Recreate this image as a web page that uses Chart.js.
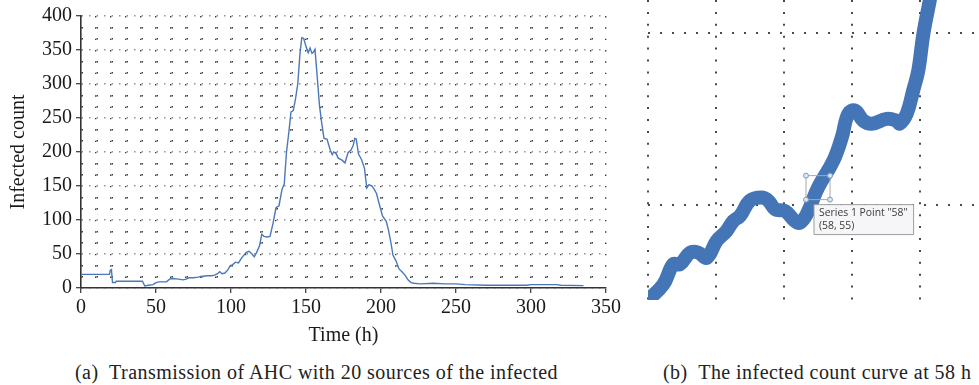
<!DOCTYPE html>
<html>
<head>
<meta charset="utf-8">
<script src="https://cdn.jsdelivr.net/npm/chart.js@4.4.1/dist/chart.umd.min.js"></script>
<style>
  body { margin: 0; background: #fff; width: 979px; height: 385px; position: relative; overflow: hidden; }
  #chart-a { position: absolute; left: 0; top: 0; }
  #chart-b { position: absolute; left: 630px; top: 0; }
  .cap { position: absolute; top: 360px; font-family: "Liberation Serif", serif; font-size: 20px; line-height: 24px; letter-spacing: 0.45px; color: #222; white-space: pre; }
</style>
</head>
<body>
<canvas id="chart-a" width="625" height="352"></canvas>
<canvas id="chart-b" width="349" height="300"></canvas>
<div class="cap" style="left:75px">(a)  Transmission of AHC with 20 sources of the infected</div>
<div class="cap" style="left:663px">(b)  The infected count curve at 58 h</div>
<script>
// (a) infected count over the whole run
const hours = [0, 19, 19.5, 20.3, 21, 23, 23.5, 41, 42.5, 45, 48, 50, 52, 57, 59, 61, 65, 68, 70, 72,
  75, 78, 80, 84, 87, 89, 91, 92.5, 94, 96, 98, 99.5, 101, 103, 105, 107, 110, 112, 114, 115.5,
  117, 119, 120.5, 122, 124, 126, 128, 130, 132, 134, 135.5, 137, 138.5, 140, 141.5, 143, 144.5, 146, 147.2, 148.5,
  150, 151.5, 152.7, 154, 155, 156, 157.5, 159, 160.5, 162, 164, 166, 167.5, 168.5, 170, 171.5, 174, 176, 178, 180,
  181.5, 182.5, 183.5, 185, 187, 189, 190.5, 192, 194, 195.5, 197, 199, 201, 203.5, 205, 206.5, 208, 210, 212, 214,
  216, 218, 220, 222, 226, 235, 242, 250, 256, 270, 297, 300, 317, 320, 335];
const infected = [20, 20, 26, 27, 8, 8, 10, 10, 3, 4, 5, 8, 9, 9, 13, 14, 13, 12, 13, 15,
  15, 16, 17, 18, 18, 19, 21, 24, 21, 22, 27, 33, 34, 38, 37, 44, 52, 54, 50, 46,
  52, 62, 79, 76, 75, 76, 95, 118, 121, 145, 153, 200, 228, 259, 261, 278, 300, 345, 368, 367,
  355, 346, 353, 345, 347, 351, 310, 268, 242, 220, 219, 204, 196, 200, 198, 191, 188, 184, 199, 203,
  210, 220, 219, 197, 189, 176, 147, 152, 150, 145, 139, 122, 106, 98, 85, 68, 48, 40, 28, 24,
  19, 12, 8, 7, 6, 7, 6, 6, 5, 4, 4, 5, 5, 4, 3.5];
const xTickLabels = [0, 50, 100, 150, 200, 250, 300, 350];
const yTickLabels = [0, 50, 100, 150, 200, 250, 300, 350, 400];

// (b) close-up of another run around 58 h
const zoomHours = [53.0, 53.45, 53.74, 53.94, 54.24, 54.48, 54.73, 55.02, 55.31, 55.51, 55.71, 56.0, 56.34, 56.54,
  56.74, 57.03, 57.32, 57.47, 57.67, 58, 58.45, 58.7, 58.89, 59.09, 59.33, 59.58, 60.02, 60.31, 60.41,
  60.61, 60.8, 60.95, 61.1, 61.29];
const zoomInfected = [22.3, 26.8, 32.7, 32.7, 36.1, 36.1, 34.6, 39.5, 42.4, 45.3, 46.8, 51.2, 52.1, 51.2,
  48.7, 48.2, 45.3, 44.8, 47.3, 55, 62.8, 69.6, 76.5, 77.4, 74.5, 73.6, 75.0, 74.5, 73.7,
  76.5, 83.3, 89.1, 99.8, 109.6];
const zoomGridHours = [53, 55, 57, 59, 61];
const zoomGridCounts = [50, 100];
const pickedHour = 58;

const serif = "'Liberation Serif', 'Times New Roman', serif";

// split each labelled interval into minor grid steps
function withMinor(labels, parts) {
  const out = [];
  for (let i = 0; i < labels.length - 1; i++) {
    const step = (labels[i + 1] - labels[i]) / parts;
    for (let k = 0; k < parts; k++) out.push(labels[i] + step * k);
  }
  out.push(labels[labels.length - 1]);
  return out;
}
const isMajor = (v, labels) => labels.some((l) => Math.abs(l - v) < 1e-6);
const tickValue = (c) => (c.tick ? c.tick.value : NaN);

const xGrid = withMinor(xTickLabels, 5);
const yGrid = withMinor(yTickLabels, 3);

// 1. full transmission curve
new Chart(document.getElementById("chart-a"), {
  type: "line",
  data: {
    datasets: [
      {
        data: hours.map((h, i) => ({ x: h, y: infected[i] })),
        borderColor: "#4a78b8",
        borderWidth: 1.4,
        pointRadius: 0,
        tension: 0,
        fill: false,
      },
    ],
  },
  options: {
    responsive: false,
    animation: false,
    events: [],
    layout: { autoPadding: false, padding: { left: 3, right: 19, top: 16, bottom: 0 } },
    plugins: { legend: { display: false }, tooltip: { enabled: false } },
    scales: {
      x: {
        type: "linear",
        min: 0,
        max: 350,
        afterBuildTicks: (s) => { s.ticks = xGrid.map((v) => ({ value: v })); },
        afterFit: (s) => { s.height = 64; },
        ticks: {
          autoSkip: false,
          maxRotation: 0,
          padding: 3,
          color: "#1a1a1a",
          font: { family: serif, size: 20 },
          callback: (v) => (isMajor(v, xTickLabels) ? v : ""),
        },
        grid: {
          color: "#3c3c3c",
          lineWidth: 1.4,
          tickLength: 5,
          tickWidth: 1.2,
          tickBorderDash: [],
          tickColor: (c) => (isMajor(tickValue(c), xTickLabels) ? "#333" : "rgba(0,0,0,0)"),
        },
        border: { color: "#333", width: 1.6, dash: [1.4, 9.93] },
        title: { display: true, text: "Time (h)", color: "#1a1a1a", font: { family: serif, size: 20 } },
      },
      y: {
        min: 0,
        max: 400,
        afterBuildTicks: (s) => { s.ticks = yGrid.map((v) => ({ value: v })); },
        afterFit: (s) => { s.width = 78; },
        ticks: {
          autoSkip: false,
          padding: 4,
          color: "#1a1a1a",
          font: { family: serif, size: 20 },
          callback: (v) => (isMajor(v, yTickLabels) ? v : ""),
        },
        grid: {
          color: (c) => (isMajor(tickValue(c), yTickLabels) ? "#8a8a8a" : "#3c3c3c"),
          lineWidth: 1.4,
          tickLength: 5,
          tickWidth: 1.2,
          tickBorderDash: [],
          tickColor: (c) => (isMajor(tickValue(c), yTickLabels) ? "#333" : "rgba(0,0,0,0)"),
        },
        border: {
          color: "#333",
          width: 1.6,
          dash: (c) => (isMajor(tickValue(c), yTickLabels) ? [1.4, 6.1] : [1.4, 13.6]),
        },
        title: { display: true, text: "Infected count", color: "#1a1a1a", font: { family: serif, size: 20 } },
      },
    },
  },
});

// 2. close-up with the picked point
Chart.Tooltip.positioners.underPick = function (items) {
  if (!items.length) return false;
  const el = items[0].element;
  return { x: el.x - 4, y: el.y + 17, xAlign: "left", yAlign: "top" };
};

const pickBox = {
  id: "pickBox",
  afterDatasetsDraw(chart) {
    const pt = chart.getDatasetMeta(0).data[zoomHours.indexOf(pickedHour)];
    const ctx = chart.ctx;
    const half = 12;
    ctx.save();
    ctx.strokeStyle = "#a8a8a8";
    ctx.lineWidth = 1;
    ctx.strokeRect(pt.x - half, pt.y - half, half * 2, half * 2);
    ctx.fillStyle = "#dbe5f1";
    ctx.strokeStyle = "#7d9bc3";
    [[-1, -1], [1, -1], [-1, 1], [1, 1]].forEach(([dx, dy]) => {
      ctx.beginPath();
      ctx.arc(pt.x + dx * half, pt.y + dy * half, 2.5, 0, Math.PI * 2);
      ctx.fill();
      ctx.stroke();
    });
    ctx.restore();
  },
};

const chartB = new Chart(document.getElementById("chart-b"), {
  type: "line",
  data: {
    datasets: [
      {
        data: zoomHours.map((h, i) => ({ x: h, y: zoomInfected[i] })),
        borderColor: "#4475b6",
        borderWidth: 14,
        borderCapStyle: "round",
        borderJoinStyle: "round",
        tension: 0.4,
        pointRadius: 0,
        clip: 0,
      },
    ],
  },
  options: {
    responsive: false,
    animation: false,
    events: [],
    layout: { autoPadding: false, padding: { left: 18, right: 0, top: 0, bottom: 0 } },
    plugins: {
      legend: { display: false },
      tooltip: {
        enabled: true,
        animation: false,
        position: "underPick",
        backgroundColor: "#f6f6f8",
        borderColor: "#9d9d9d",
        borderWidth: 1,
        cornerRadius: 0,
        caretSize: 0,
        caretPadding: 0,
        displayColors: false,
        padding: { left: 5, right: 6, top: 2, bottom: 2 },
        bodyColor: "#3a3a3a",
        bodyFont: { family: "'Open Sans', sans-serif", size: 10.4 },
        bodySpacing: 1,
        callbacks: {
          title: () => "",
          label: (c) => [`Series 1 Point "${c.parsed.x}"`, `(${c.parsed.x}, ${c.parsed.y})`],
        },
      },
    },
    scales: {
      x: {
        type: "linear",
        min: 53,
        max: 62.735,
        afterBuildTicks: (s) => { s.ticks = zoomGridHours.map((v) => ({ value: v })); },
        ticks: { display: false },
        grid: { color: "#4a4a4a", lineWidth: 2, drawTicks: false },
        border: { display: false, dash: [2, 9.9] },
      },
      y: {
        min: 22.3,
        max: 109.6,
        afterBuildTicks: (s) => { s.ticks = zoomGridCounts.map((v) => ({ value: v })); },
        ticks: { display: false },
        grid: { color: "#4a4a4a", lineWidth: 2, drawTicks: false },
        border: { display: false, dash: [2, 10] },
      },
    },
  },
  plugins: [pickBox],
});

chartB.tooltip.setActiveElements([{ datasetIndex: 0, index: zoomHours.indexOf(pickedHour) }], { x: 0, y: 0 });
chartB.update();
</script>
</body>
</html>
